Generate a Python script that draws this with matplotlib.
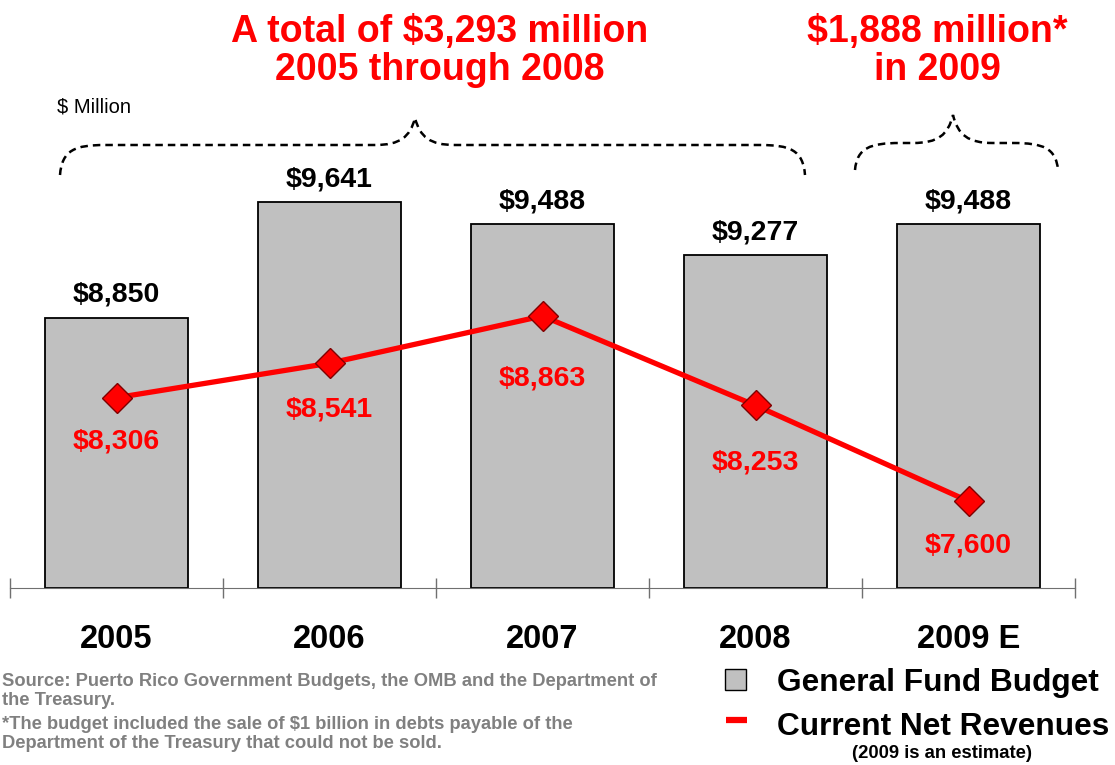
from matplotlib import pyplot as plt
from matplotlib.path import Path
from matplotlib.patches import PathPatch, Rectangle
import numpy as np

plt.rcParams['font.family'] = ['Liberation Sans', 'DejaVu Sans']

years = ['2005', '2006', '2007', '2008', '2009 E']
budget = [8850, 9641, 9488, 9277, 9488]
revenues = [8306, 8541, 8863, 8253, 7600]
budget_labels = ['$8,850', '$9,641', '$9,488', '$9,277', '$9,488']
revenue_labels = ['$8,306', '$8,541', '$8,863', '$8,253', '$7,600']

W, H = 1115, 765
fig = plt.figure(figsize=(W / 100, H / 100), dpi=100)

##################################
# bars + line
##################################
y0 = 7008
ax = fig.add_axes([10 / W, 177 / H, 1065 / W, 588 / H])
x = np.arange(len(years))
ax.bar(x, np.array(budget) - y0, bottom=y0, width=0.667, color='#C0C0C0',
       edgecolor='black', linewidth=1.3, zorder=2)
ax.plot(x, revenues, color='#FF0000', lw=3.8, marker='D', ms=15,
        mfc='#FF0000', mec='#800000', mew=1, zorder=3)
ax.set_xlim(-0.5, 4.5)
ax.set_ylim(y0, y0 + 588 * 6.82)

for i, lab in enumerate(budget_labels):
    ax.annotate(lab, (x[i], budget[i]), xytext=(0, 16.5), textcoords='offset points',
                ha='center', va='center', fontsize=20.5, fontweight='bold', color='black')

rev_off = [-31.5, -33, -45, -41, -32]
for i, lab in enumerate(revenue_labels):
    ax.annotate(lab, (x[i], revenues[i]), xytext=(0, rev_off[i]), textcoords='offset points',
                ha='center', va='center', fontsize=20.5, fontweight='bold', color='#FF0000')

for s in ['left', 'right', 'top']:
    ax.spines[s].set_visible(False)
ax.spines['bottom'].set_color('#707070')
ax.set_yticks([])
ax.set_xticks(x)
ax.set_xticklabels(years, fontsize=23.5, fontweight='bold')
ax.tick_params(axis='x', which='major', length=0, pad=26)
ax.set_xticks(np.arange(-0.5, 5, 1), minor=True)
ax.tick_params(axis='x', which='minor', direction='inout', length=15, color='#707070', width=1)

##################################
# overlay: titles, braces, legend, notes
##################################
ov = fig.add_axes([0, 0, 1, 1])
ov.set_xlim(0, W)
ov.set_ylim(H, 0)
ov.axis('off')

ov.text(440, 51, 'A total of $3,293 million\n2005 through 2008', ha='center', va='center',
        fontsize=27, fontweight='bold', color='#FF0000', linespacing=1.08)
ov.text(937, 51, '$1,888 million*\nin 2009', ha='center', va='center',
        fontsize=27, fontweight='bold', color='#FF0000', linespacing=1.08)
ov.text(57, 107, '$ Million', ha='left', va='center', fontsize=14.5)

def brace(x1, x2, xp, yh, yp, yend):
    verts = [(x1, yend), (x1 + 2, yh + 5), (x1 + 15, yh), (x1 + 45, yh),
             (xp - 40, yh), (xp - 15, yh), (xp - 5, yh - 8), (xp, yp),
             (xp + 5, yh - 8), (xp + 15, yh), (xp + 40, yh),
             (x2 - 45, yh), (x2 - 15, yh), (x2 - 2, yh + 5), (x2, yend)]
    codes = [Path.MOVETO, Path.CURVE4, Path.CURVE4, Path.CURVE4,
             Path.LINETO, Path.CURVE4, Path.CURVE4, Path.CURVE4,
             Path.CURVE4, Path.CURVE4, Path.CURVE4,
             Path.LINETO, Path.CURVE4, Path.CURVE4, Path.CURVE4]
    ov.add_patch(PathPatch(Path(verts, codes), fill=False, ec='black', lw=1.8,
                           ls=(0, (3, 2))))

brace(60, 805, 415, 145, 118, 175)
brace(855, 1058, 953, 143, 115, 170)

ov.add_patch(Rectangle((725, 669), 21, 21, fc='#C0C0C0', ec='black', lw=1))
ov.plot([726, 747], [720, 720], color='#FF0000', lw=4.5, solid_capstyle='butt')
ov.text(777, 683, 'General Fund Budget', ha='left', va='center', fontsize=22.8, fontweight='bold')
ov.text(777, 727, 'Current Net Revenues', ha='left', va='center', fontsize=22.8, fontweight='bold')
ov.text(942, 753, '(2009 is an estimate)', ha='center', va='center', fontsize=13.3, fontweight='bold')

ov.text(2, 691, 'Source: Puerto Rico Government Budgets, the OMB and the Department of\nthe Treasury.',
        ha='left', va='center', fontsize=13.2, fontweight='bold', color='#808080', linespacing=1.2)
ov.text(2, 734, '*The budget included the sale of $1 billion in debts payable of the\nDepartment of the Treasury that could not be sold.',
        ha='left', va='center', fontsize=13.2, fontweight='bold', color='#808080', linespacing=1.2)

fig.savefig('out.png', dpi=100)
